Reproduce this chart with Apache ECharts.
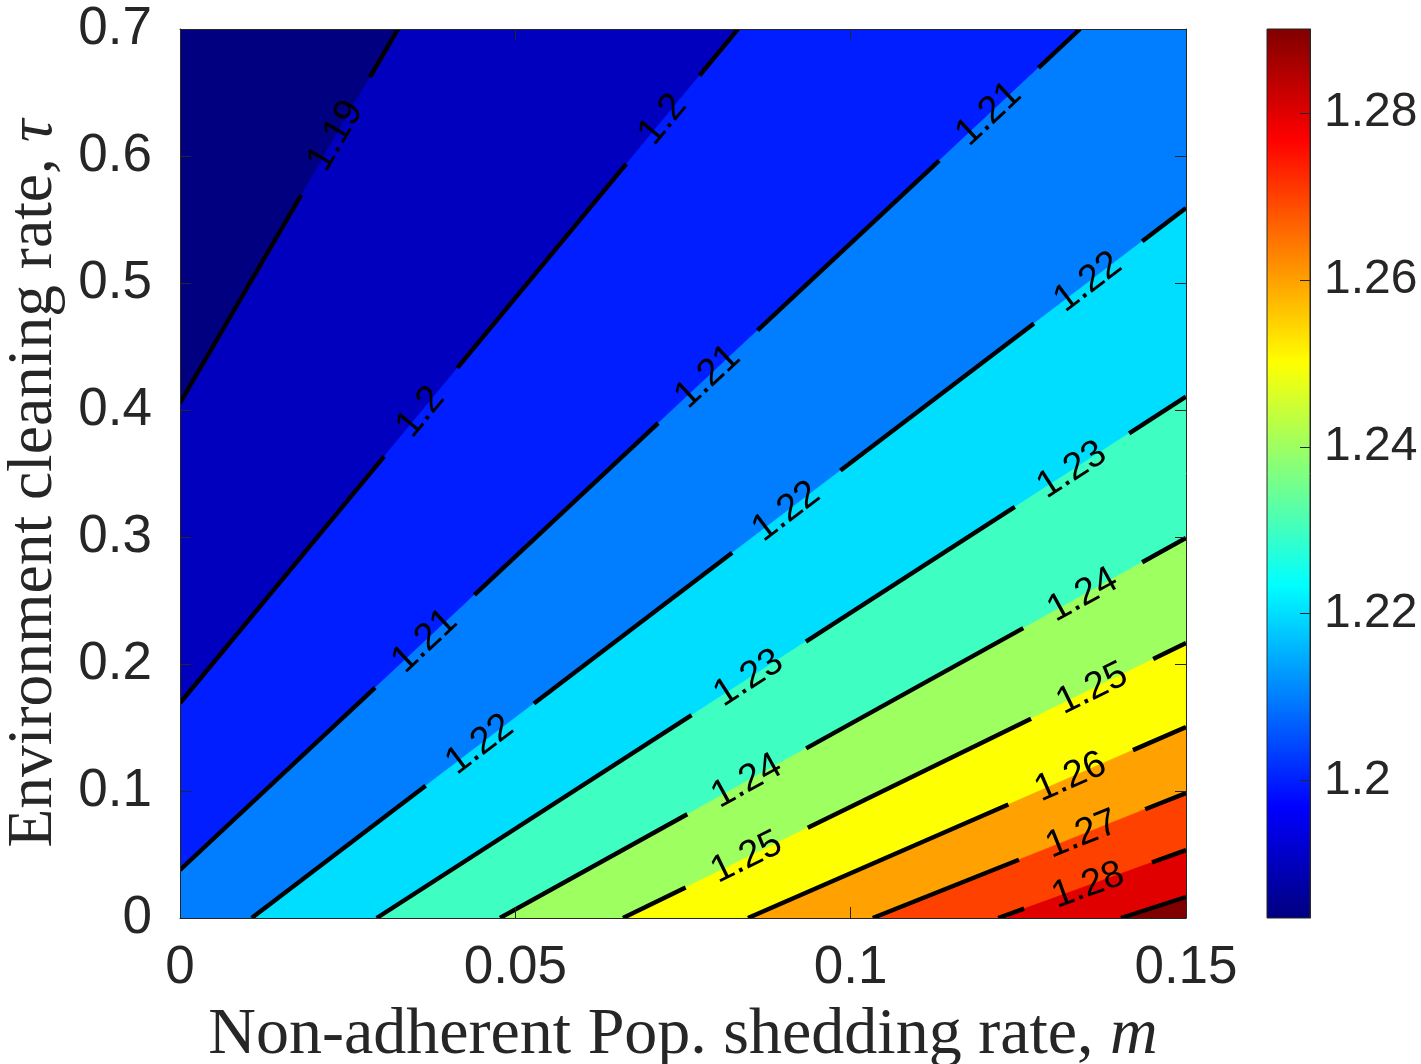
<!DOCTYPE html>
<html>
<head>
<meta charset="utf-8">
<script src="https://cdn.jsdelivr.net/npm/echarts@6/dist/echarts.min.js"></script>
<style>html,body{margin:0;padding:0;background:#fff}#c{width:1421px;height:1064px}</style>
</head>
<body>
<div id="c"></div>
<script>
// ---- data ----
const levels   = [1.19, 1.20, 1.21, 1.22, 1.23, 1.24, 1.25, 1.26, 1.27, 1.28, 1.29];
// contour line end points (m, tau)
const startM   = [0, 0, 0, 0.01069, 0.02933, 0.04771, 0.06605, 0.08469, 0.1033, 0.1220, 0.1403];
const startTau = [0.4055, 0.1693, 0.0378, 0, 0, 0, 0, 0, 0, 0, 0];
const endM     = [0.0325, 0.0832, 0.1342, 0.15, 0.15, 0.15, 0.15, 0.15, 0.15, 0.15, 0.15];
const endTau   = [0.7, 0.7, 0.7, 0.5591, 0.4105, 0.2992, 0.2165, 0.1504, 0.0984, 0.0535, 0.0165];
// m position of each inline contour label
const labelM   = [[0.0232], [0.0359, 0.0720], [0.0365, 0.0787, 0.1206], [0.0447, 0.0904, 0.1354],
                  [0.0848, 0.1330], [0.0845, 0.1346], [0.0845, 0.1360], [0.1328], [0.1345], [0.1354], []];
const xTicks   = [0, 0.05, 0.1, 0.15];
const yTicks   = [0, 0.1, 0.2, 0.3, 0.4, 0.5, 0.6, 0.7];
const cbarTicks = [1.2, 1.22, 1.24, 1.26, 1.28];
const cMin = 1.1835, cMax = 1.2901;
const xTitle = 'Non-adherent Pop. shedding rate, ';
const xTitleVar = 'm';
const yTitle = 'Environment cleaning rate, ';
const yTitleVar = 'τ';

// ---- helpers ----
function clamp(v){ return Math.max(0, Math.min(1, v)); }
function jet(x){
  const r = clamp(Math.min(4*x - 1.5, -4*x + 4.5));
  const g = clamp(Math.min(4*x - 0.5, -4*x + 3.5));
  const b = clamp(Math.min(4*x + 0.5, -4*x + 2.5));
  return 'rgb(' + Math.round(r*255) + ',' + Math.round(g*255) + ',' + Math.round(b*255) + ')';
}
function norm(v){ return (v - cMin) / (cMax - cMin); }
function clipHalf(poly, s, e){
  const dx = e[0]-s[0], dy = e[1]-s[1];
  const side = p => dx*(p[1]-s[1]) - dy*(p[0]-s[0]);
  const out = [];
  for (let i = 0; i < poly.length; i++){
    const a = poly[i], b = poly[(i+1) % poly.length];
    const sa = side(a), sb = side(b);
    if (sa <= 0) out.push(a);
    if ((sa < 0 && sb > 0) || (sa > 0 && sb < 0)){
      const t = sa / (sa - sb);
      out.push([a[0] + t*(b[0]-a[0]), a[1] + t*(b[1]-a[1])]);
    }
  }
  return out;
}
const LABEL_FONT = 38;
const mctx = document.createElement('canvas').getContext('2d');
mctx.font = LABEL_FONT + 'px "Liberation Sans"';
function textW(t){ return mctx.measureText(t).width; }

const xMin = xTicks[0], xMax = xTicks[xTicks.length-1];
const yMin = yTicks[0], yMax = yTicks[yTicks.length-1];

function bandRender(params, api){
  const k = api.value(0);
  let poly = [[xMin, yMin], [xMax, yMin], [xMax, yMax], [xMin, yMax]];
  let color;
  if (k < 0) color = jet(0);
  else {
    poly = clipHalf(poly, [startM[k], startTau[k]], [endM[k], endTau[k]]);
    color = jet(norm(levels[k]));
  }
  if (poly.length < 3) return null;
  return { type: 'polygon', shape: { points: poly.map(p => api.coord(p)) },
           style: { fill: color, stroke: color, lineWidth: 0.6 } };
}

function lineRender(params, api){
  const k = api.value(0);
  const p0 = api.coord([startM[k], startTau[k]]);
  const p1 = api.coord([endM[k], endTau[k]]);
  const dx = p1[0]-p0[0], dy = p1[1]-p0[1];
  const L = Math.hypot(dx, dy), ux = dx/L, uy = dy/L;
  const rot = Math.atan2(-dy, dx);
  const txt = String(levels[k]);
  const gap = textW(txt) + 62;
  const cuts = [], children = [];
  labelM[k].forEach(mv => {
    const t = (mv - startM[k]) / (endM[k] - startM[k]);
    const s = t * L;
    cuts.push([s - gap/2, s + gap/2]);
    children.push({ type: 'text', x: p0[0] + ux*s, y: p0[1] + uy*s, rotation: rot, z2: 5,
      style: { text: txt, fill: '#000', fontSize: LABEL_FONT, fontFamily: 'Liberation Sans',
               align: 'center', verticalAlign: 'middle' } });
  });
  cuts.sort((a, b) => a[0] - b[0]);
  let cur = 0;
  const segs = [];
  cuts.forEach(c => { if (c[0] > cur) segs.push([cur, c[0]]); cur = Math.max(cur, c[1]); });
  if (cur < L) segs.push([cur, L]);
  segs.forEach(sg => children.push({ type: 'line',
    shape: { x1: p0[0]+ux*sg[0], y1: p0[1]+uy*sg[0], x2: p0[0]+ux*sg[1], y2: p0[1]+uy*sg[1] },
    style: { stroke: '#000', lineWidth: 4.4, lineCap: 'butt' } }));
  return { type: 'group', children };
}

function cbarRender(params, api){
  const a = api.coord([0, cMax]), b = api.coord([1, cMin]);
  const stops = [];
  for (let i = 0; i <= 64; i++){
    const f = i / 64;
    stops.push({ offset: f, color: jet(1 - f) });
  }
  return { type: 'rect', shape: { x: a[0], y: a[1], width: b[0]-a[0], height: b[1]-a[1] },
           style: { fill: new echarts.graphic.LinearGradient(0, 0, 0, 1, stops), stroke: '#262626', lineWidth: 1 } };
}

const axisCol = '#262626';
const tickFont = { fontFamily: 'Liberation Sans', fontSize: 53, color: axisCol };
const serif = 'Liberation Serif';

const chart = echarts.init(document.getElementById('c'), null, { renderer: 'canvas' });
chart.setOption({
  animation: false,
  backgroundColor: '#fff',
  grid: [
    { left: 180, top: 29, width: 1006, height: 889, containLabel: false, outerBoundsMode: 'none' },
    { left: 1267, top: 29, width: 43, height: 889, containLabel: false, outerBoundsMode: 'none' }
  ],
  xAxis: [
    { gridIndex: 0, type: 'value', min: xMin, max: xMax, interval: 0.05, position: 'bottom', z: 10,
      axisLine: { show: true, onZero: false, lineStyle: { color: axisCol, width: 1 } },
      axisTick: { show: true, inside: true, length: 11, lineStyle: { color: axisCol } },
      axisLabel: Object.assign({ margin: 24 }, tickFont),
      splitLine: { show: false },
      name: '{r|' + xTitle + '}{i|' + xTitleVar + '}', nameLocation: 'middle', nameGap: 85,
      nameTextStyle: { rich: {
        r: { fontFamily: serif, fontSize: 66, color: axisCol },
        i: { fontFamily: serif, fontSize: 66, fontStyle: 'italic', color: axisCol } } } },
    { gridIndex: 0, type: 'value', min: xMin, max: xMax, interval: 0.05, position: 'top', z: 10,
      axisLine: { show: true, onZero: false, lineStyle: { color: axisCol, width: 1 } },
      axisTick: { show: true, inside: true, length: 11, lineStyle: { color: axisCol } },
      axisLabel: { show: false }, splitLine: { show: false } },
    { gridIndex: 1, type: 'value', min: 0, max: 1, show: false }
  ],
  yAxis: [
    { gridIndex: 0, type: 'value', min: yMin, max: yMax, interval: 0.1, position: 'left', z: 10,
      axisLine: { show: true, onZero: false, lineStyle: { color: axisCol, width: 1 } },
      axisTick: { show: true, inside: true, length: 11, lineStyle: { color: axisCol } },
      axisLabel: Object.assign({ margin: 28 }, tickFont),
      splitLine: { show: false },
      name: '{r|' + yTitle + '}{i|' + yTitleVar + '}', nameLocation: 'middle', nameGap: 114,
      nameTextStyle: { rich: {
        r: { fontFamily: serif, fontSize: 63.5, color: axisCol },
        i: { fontFamily: serif, fontSize: 63.5, fontStyle: 'italic', color: axisCol, padding: [0, 20, 0, 0] } } } },
    { gridIndex: 0, type: 'value', min: yMin, max: yMax, interval: 0.1, position: 'right', z: 10,
      axisLine: { show: true, onZero: false, lineStyle: { color: axisCol, width: 1 } },
      axisTick: { show: true, inside: true, length: 11, lineStyle: { color: axisCol } },
      axisLabel: { show: false }, splitLine: { show: false } },
    { gridIndex: 1, type: 'value', min: cMin, max: cMax, position: 'right', z: 10,
      axisLine: { show: true, onZero: false, lineStyle: { color: axisCol, width: 1 } },
      axisTick: { show: true, inside: true, length: 10, customValues: cbarTicks, lineStyle: { color: axisCol } },
      axisLabel: Object.assign({ margin: 14, customValues: cbarTicks }, tickFont, { fontSize: 48 }),
      splitLine: { show: false } }
  ],
  series: [
    { type: 'custom', xAxisIndex: 0, yAxisIndex: 0, clip: true, z: 2,
      renderItem: bandRender, data: [[-1]].concat(levels.map((_, i) => [i])) },
    { type: 'custom', xAxisIndex: 0, yAxisIndex: 0, clip: true, z: 3,
      renderItem: lineRender, data: levels.map((_, i) => [i]) },
    { type: 'custom', xAxisIndex: 2, yAxisIndex: 2, z: 2,
      renderItem: cbarRender, data: [[0]] }
  ]
});
</script>
</body>
</html>
